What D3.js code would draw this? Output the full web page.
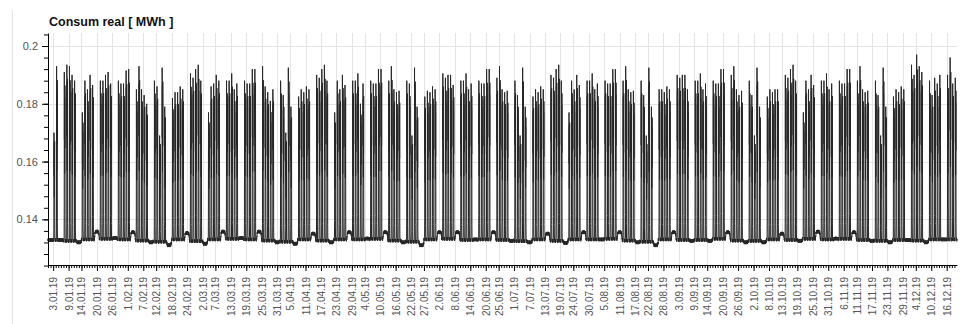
<!DOCTYPE html>
<html>
<head>
<meta charset="utf-8">
<script src="https://cdn.jsdelivr.net/npm/d3@7"></script>
<style>
  body { margin: 0; background: #fff; }
  text { font-family: "Liberation Sans", Arial, sans-serif; }
</style>
</head>
<body>
<div id="chart"></div>
<script>
// Data: hourly consumption, 1 Jan 2019 .. 19 Dec 2019
// week 0 starts Monday 31.12.18; values = daily peak Mon..Fri (null = no activity)
const weekPeaks = [
  [null, null, null, 0.170, 0.193],
  [0.191, 0.1935, 0.193, 0.190, 0.188],
  [0.177, 0.188, 0.185, 0.190, 0.1865],
  [0.188, 0.188, 0.190, 0.191, 0.187],
  [0.188, 0.187, 0.187, 0.1915, 0.192],
  [0.185, 0.193, 0.185, 0.183, 0.180],
  [0.188, 0.186, 0.169, 0.1925, 0.179],
  [0.182, 0.184, 0.184, 0.186, 0.185],
  [0.1905, 0.189, 0.192, 0.1935, 0.188],
  [0.177, 0.186, 0.187, 0.190, 0.188],
  [0.188, 0.188, 0.1905, 0.185, 0.187],
  [0.188, 0.187, 0.187, 0.192, 0.192],
  [0.193, 0.186, 0.184, 0.181, 0.185],
  [0.188, 0.183, 0.170, 0.1925, 0.179],
  [0.1825, 0.185, 0.184, 0.186, 0.185],
  [0.190, 0.189, 0.192, 0.1935, 0.188],
  [0.177, 0.188, 0.185, 0.190, 0.1865],
  [0.188, 0.188, 0.1905, 0.180, 0.187],
  [0.188, 0.187, 0.187, 0.192, 0.192],
  [0.188, 0.193, 0.185, 0.184, 0.1845],
  [0.188, 0.187, 0.169, 0.1925, 0.179],
  [0.1825, 0.1845, 0.184, 0.186, 0.185],
  [0.1905, 0.189, 0.190, 0.190, 0.1865],
  [0.188, 0.188, 0.1905, 0.185, 0.187],
  [0.188, 0.187, 0.187, 0.192, 0.192],
  [0.189, 0.193, 0.185, 0.184, 0.1845],
  [0.188, 0.183, 0.169, 0.1925, 0.179],
  [0.1825, 0.185, 0.184, 0.186, 0.185],
  [0.190, 0.189, 0.192, 0.1935, 0.188],
  [0.177, 0.188, 0.185, 0.190, 0.1865],
  [0.188, 0.188, 0.1905, 0.185, 0.187],
  [0.188, 0.187, 0.187, 0.192, 0.192],
  [0.188, 0.193, 0.185, 0.184, 0.1845],
  [0.188, 0.183, 0.169, 0.1925, 0.179],
  [0.185, 0.185, 0.184, 0.186, 0.185],
  [0.190, 0.189, 0.190, 0.190, 0.185],
  [0.188, 0.188, 0.1905, 0.185, 0.187],
  [0.188, 0.187, 0.187, 0.192, 0.192],
  [0.190, 0.193, 0.185, 0.183, 0.1845],
  [0.188, 0.183, 0.169, 0.1925, 0.179],
  [0.1825, 0.185, 0.184, 0.185, 0.185],
  [0.190, 0.189, 0.192, 0.1935, 0.188],
  [0.177, 0.188, 0.185, 0.190, 0.1865],
  [0.188, 0.188, 0.1905, 0.185, 0.187],
  [0.188, 0.187, 0.187, 0.192, 0.192],
  [0.188, 0.193, 0.185, 0.184, 0.1845],
  [0.188, 0.183, 0.169, 0.1925, 0.179],
  [0.1825, 0.185, 0.184, 0.186, 0.185],
  [0.1935, 0.190, 0.197, 0.193, 0.191],
  [0.188, 0.183, 0.189, 0.187, 0.190],
  [0.190, 0.196, 0.187, 0.189, null]
];

// night (weekday) base level per week
const nightLevel = [
  0.1328, 0.1325, 0.1330, 0.1332, 0.1330, 0.1326, 0.1322, 0.1330, 0.1324, 0.1330,
  0.1332, 0.1330, 0.1326, 0.1322, 0.1330, 0.1326, 0.1330, 0.1330, 0.1332, 0.1326,
  0.1322, 0.1330, 0.1332, 0.1328, 0.1330, 0.1328, 0.1324, 0.1330, 0.1325, 0.1330,
  0.1330, 0.1332, 0.1326, 0.1322, 0.1330, 0.1328, 0.1328, 0.1332, 0.1326, 0.1325,
  0.1330, 0.1328, 0.1332, 0.1330, 0.1332, 0.1328, 0.1325, 0.1328, 0.1326, 0.1330,
  0.1330
];

// weekend level (Sat-Sun after each week)
const weekendLevel = [
  0.1328, 0.1320, 0.1357, 0.1335, 0.1355, 0.1320, 0.1310, 0.1352, 0.1315, 0.1357,
  0.1335, 0.1357, 0.1320, 0.1315, 0.1350, 0.1320, 0.1355, 0.1333, 0.1355, 0.1320,
  0.1310, 0.1355, 0.1355, 0.1330, 0.1355, 0.1325, 0.1320, 0.1350, 0.1318, 0.1355,
  0.1330, 0.1355, 0.1320, 0.1310, 0.1355, 0.1325, 0.1325, 0.1355, 0.1320, 0.1320,
  0.1350, 0.1325, 0.1357, 0.1333, 0.1355, 0.1325, 0.1320, 0.1328, 0.1320, 0.1330,
  0.1330
];

// typical weekday hourly profile (share of the way from base to peak)
const dayShape = [0, 0, 0, 0, 0, 0, 0, 0.15, 1.0, 0.6, 0.9, 0.4, 0.85, 0.55, 0.92, 0.1, 0, 0, 0, 0, 0, 0, 0, 0];
// weekend hourly share of the way from night level to weekend level (Saturday, Sunday)
const satShape = [0, 0.1, 0.2, 0.35, 0.5, 0.6, 0.7, 0.8, 0.9, 1, 1, 1, 1, 1, 1, 1, 1, 1, 1, 1, 1, 1, 1, 1];
const sunShape = [1, 1, 1, 1, 1, 1, 1, 1, 1, 1, 1, 1, 1, 1, 1, 1, 0.9, 0.8, 0.7, 0.6, 0.45, 0.3, 0.2, 0.1];
// small hourly noise on the base load [MWh]
const nightJitter = [0.0004, -0.0003, 0.0006, -0.0001, -0.0005, 0.0002, 0.0007, -0.0002, 0.0003, -0.0006, 0.0001, 0.0005,
  -0.0003, 0.0004, -0.0001, -0.0005, 0.0006, 0.0001, -0.0004, 0.0007, -0.0002, 0.0003, -0.0006, 0.0002];

const tickLabels = ["3.01.19", "9.01.19", "14.01.19", "20.01.19", "26.01.19", "1.02.19", "7.02.19", "12.02.19",
  "18.02.19", "24.02.19", "2.03.19", "7.03.19", "13.03.19", "19.03.19", "25.03.19", "31.03.19", "5.04.19",
  "11.04.19", "17.04.19", "23.04.19", "29.04.19", "4.05.19", "10.05.19", "16.05.19", "22.05.19", "27.05.19",
  "2.06.19", "8.06.19", "14.06.19", "20.06.19", "25.06.19", "1.07.19", "7.07.19", "13.07.19", "19.07.19",
  "24.07.19", "30.07.19", "5.08.19", "11.08.19", "17.08.19", "22.08.19", "28.08.19", "3.09.19", "9.09.19",
  "14.09.19", "20.09.19", "26.09.19", "2.10.19", "8.10.19", "13.10.19", "19.10.19", "25.10.19", "31.10.19",
  "6.11.19", "11.11.19", "17.11.19", "23.11.19", "29.11.19", "4.12.19", "10.12.19", "16.12.19"];

const yTickValues = [0.14, 0.16, 0.18, 0.2];

// Set up dimensions
const margin = {top: 33, right: 12, bottom: 59, left: 48};
const width = 969 - margin.left - margin.right;
const height = 324 - margin.top - margin.bottom;

const svgRoot = d3.select("#chart")
  .append("svg")
  .attr("width", 969)
  .attr("height", 324);

// faint frame line on the left
svgRoot.append("line")
  .attr("x1", 12.5).attr("x2", 12.5)
  .attr("y1", 10).attr("y2", 324)
  .attr("stroke", "#e2e2e2");

const svg = svgRoot.append("g")
  .attr("transform", "translate(" + margin.left + "," + margin.top + ")");

// build hourly series
const start = new Date(2019, 0, 1);
const end = new Date(2019, 11, 20);
const nDays = d3.timeDay.count(start, end);
const series = [];
for (let d = 0; d < nDays; d++) {
  const day = d3.timeDay.offset(start, d);
  const k = Math.floor((d + 1) / 7);
  const dow = (d + 1) % 7;
  const peak = dow < 5 ? weekPeaks[k][dow] : null;
  for (let h = 0; h < 24; h++) {
    const base = nightLevel[k] + nightJitter[h];
    let v;
    if (dow === 5) v = base + (weekendLevel[k] - nightLevel[k]) * satShape[h];
    else if (dow === 6) v = base + (weekendLevel[k] - nightLevel[k]) * sunShape[h];
    else if (peak == null || dayShape[h] === 0) v = base;
    else v = nightLevel[k] + (peak - nightLevel[k]) * dayShape[h];
    series.push({t: d3.timeHour.offset(day, h), v: v});
  }
}
series.push({t: end, v: nightLevel[50]});

// scales
const x = d3.scaleTime().domain([start, end]).range([0, width]);
const y = d3.scaleLinear().domain([0.1242, 0.2045]).range([height, 0]);

const parseLabel = s => {
  const p = s.split(".");
  return new Date(2000 + +p[2], +p[1] - 1, +p[0]);
};
const tickDates = tickLabels.map(parseLabel);

// grid
svg.append("g")
  .selectAll("line")
  .data(tickDates)
  .join("line")
  .attr("x1", d => Math.round(x(d)) + 0.5)
  .attr("x2", d => Math.round(x(d)) + 0.5)
  .attr("y1", 0)
  .attr("y2", height)
  .attr("stroke", "#e4e4e4");

svg.append("g")
  .selectAll("line")
  .data(yTickValues)
  .join("line")
  .attr("x1", 0)
  .attr("x2", width)
  .attr("y1", d => Math.round(y(d)) + 0.5)
  .attr("y2", d => Math.round(y(d)) + 0.5)
  .attr("stroke", "#e4e4e4");

// line
const line = d3.line()
  .x(d => x(d.t))
  .y(d => y(d.v));

svg.append("path")
  .datum(series)
  .attr("fill", "none")
  .attr("stroke", "#262626")
  .attr("stroke-width", 1)
  .attr("d", line);

// y axis: minor ticks then major
svg.append("g")
  .call(d3.axisLeft(y).tickValues(d3.range(0.124, 0.2045, 0.004)).tickSize(4).tickFormat(""))
  .call(g => g.select(".domain").remove());

svg.append("g")
  .call(d3.axisLeft(y).tickValues(yTickValues).tickSize(6).tickSizeOuter(0).tickFormat(d3.format("")))
  .call(g => g.selectAll("text")
    .attr("x", -10)
    .style("font-size", "11px")
    .style("fill", "#555"));

// x axis: daily minor ticks, labelled major ticks
svg.append("g")
  .attr("transform", `translate(0,${height})`)
  .call(d3.axisBottom(x).tickValues(d3.timeDay.range(start, end)).tickSize(3).tickFormat(""))
  .call(g => g.select(".domain").remove());

svg.append("g")
  .attr("transform", `translate(0,${height})`)
  .call(d3.axisBottom(x).tickValues(tickDates).tickSize(6).tickSizeOuter(0).tickFormat((d, i) => tickLabels[i]))
  .selectAll("text")
  .attr("transform", "rotate(-90)")
  .attr("x", -12)
  .attr("y", 0)
  .attr("dy", "0.35em")
  .style("text-anchor", "end")
  .style("font-size", "10px")
  .style("fill", "#555");

// title
svgRoot.append("text")
  .attr("x", 49)
  .attr("y", 26)
  .style("font-size", "12.5px")
  .style("font-weight", "bold")
  .style("fill", "#111")
  .text("Consum real [ MWh ]");
</script>
</body>
</html>
